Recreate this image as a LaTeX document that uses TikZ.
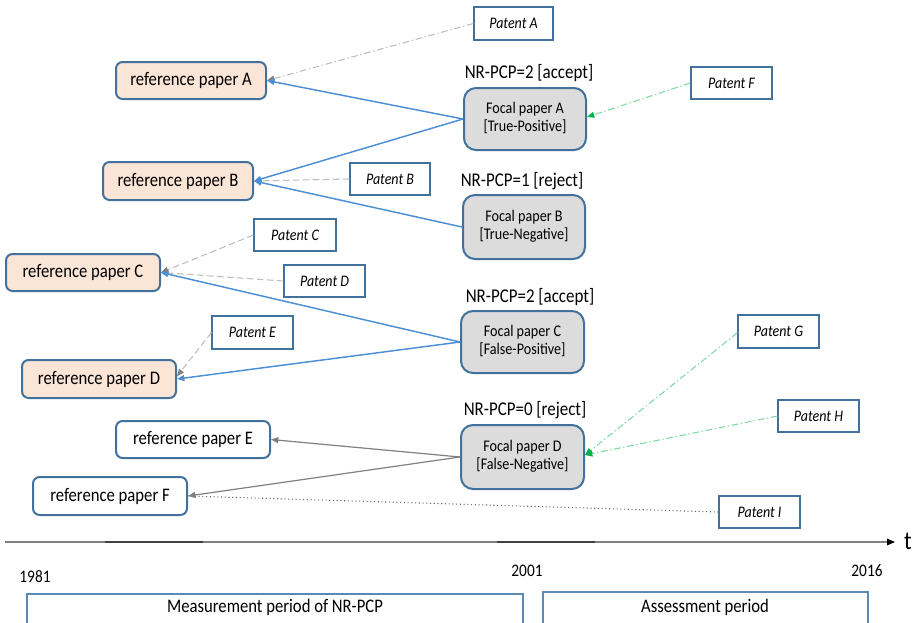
\documentclass[tikz,border=0pt]{standalone}
\usepackage{fontspec}
\setmainfont{Carlito}
\usepackage{graphicx}
\usetikzlibrary{arrows.meta}
\definecolor{bordc}{HTML}{41719C}
\definecolor{reffill}{HTML}{FBE5D6}
\definecolor{focfill}{HTML}{DCDCDC}
\definecolor{blueln}{HTML}{4D8FD6}
\definecolor{grayln}{HTML}{808080}
\definecolor{ltgray}{HTML}{BDBDBD}
\definecolor{greentip}{HTML}{00B050}
\definecolor{greenln}{HTML}{7ED9A2}
\definecolor{perbord}{HTML}{5B88B5}
\newcommand\vs[1]{\scalebox{1}[1.15]{#1}}
\tikzset{
  wh/.style 2 args={minimum width=#1*0.75pt, minimum height=#2*0.75pt},
  refbox/.style={draw=bordc, line width=1.5pt, rounded corners=5pt, inner sep=0pt,
    font=\fontsize{12.5}{14}\selectfont, wh={152}{37}},
  refc/.style={refbox, fill=reffill},
  refw/.style={refbox, fill=white},
  focbox/.style={draw=bordc, fill=focfill, line width=1.5pt, rounded corners=9pt, inner sep=0pt,
    font=\fontsize{10.6}{12}\selectfont, wh={122}{63}},
  patbox/.style={draw=bordc, fill=white, line width=0.9pt, inner sep=0pt,
    font=\fontsize{10.5}{12}\selectfont\itshape, wh={81}{32}},
  nrlab/.style={inner sep=0pt, font=\fontsize{12.7}{14}\selectfont},
  yearlab/.style={inner sep=0pt, font=\fontsize{11.5}{13}\selectfont},
  perbox/.style={draw=perbord, line width=0.8pt},
  tip/.style={-{Triangle[length=5.5pt,width=4.5pt,color=#1]}},
  bluearr/.style={blueln, line width=1.1pt, tip=blueln},
  grayarr/.style={grayln, line width=0.9pt, tip=grayln},
  patref/.style={ltgray, line width=0.8pt, dash pattern=on 5pt off 2pt on 1pt off 2pt},
  patdash/.style={ltgray, line width=0.8pt, dash pattern=on 5pt off 2.5pt},
  patgreen/.style={greenln, line width=0.8pt, dash pattern=on 5pt off 2pt on 1pt off 2pt},
}
\begin{document}
\begin{tikzpicture}[x=0.75pt,y=-0.75pt]
\useasboundingbox (0,0) rectangle (917,622);

% reference papers
\node[refc, wh={150}{37}] (rA) at (191,80.5) {\vs{reference paper A}};
\node[refc, wh={150}{38}] (rB) at (178,181) {\vs{reference paper B}};
\node[refc, wh={154}{37}] (rC) at (83,272.5) {\vs{reference paper C}};
\node[refc, wh={154}{38}] (rD) at (99,379) {\vs{reference paper D}};
\node[refw, wh={154}{37}] (rE) at (193,439.5) {\vs{reference paper E}};
\node[refw, wh={154}{38}] (rF) at (110,496) {\vs{reference paper F}};

% focal papers
\node[focbox, wh={122}{62}] (fA) at (525,119) {\vs{\begin{tabular}{@{}c@{}}Focal paper A\\\relax [True-Positive]\end{tabular}}};
\node[focbox, wh={122}{64}] (fB) at (524,227) {\vs{\begin{tabular}{@{}c@{}}Focal paper B\\\relax [True-Negative]\end{tabular}}};
\node[focbox, wh={123}{62}] (fC) at (522.5,342) {\vs{\begin{tabular}{@{}c@{}}Focal paper C\\\relax [False-Positive]\end{tabular}}};
\node[focbox, wh={123}{64}] (fD) at (522.5,457) {\vs{\begin{tabular}{@{}c@{}}Focal paper D\\\relax [False-Negative]\end{tabular}}};

% NR-PCP labels
\node[nrlab] (lA) at (529,73) {\vs{NR-PCP=2 [accept]}};
\node[nrlab] (lB) at (522,181) {\vs{NR-PCP=1 [reject]}};
\node[nrlab] (lC) at (530,297) {\vs{NR-PCP=2 [accept]}};
\node[nrlab] (lD) at (525,410) {\vs{NR-PCP=0 [reject]}};

% patents
\node[patbox, wh={79}{33}] (pA) at (513.5,23.5) {\vs{Patent A}};
\node[patbox, wh={80}{32}] (pB) at (390,179) {\vs{Patent B}};
\node[patbox, wh={82}{32}] (pC) at (295,235) {\vs{Patent C}};
\node[patbox] (pD) at (324.5,281) {\vs{Patent D}};
\node[patbox, wh={81}{33}] (pE) at (252.5,332.5) {\vs{Patent E}};
\node[patbox] (pF) at (731.5,83) {\vs{Patent F}};
\node[patbox, wh={81}{33}] (pG) at (778.5,331.5) {\vs{Patent G}};
\node[patbox] (pH) at (818.5,416) {\vs{Patent H}};
\node[patbox] (pI) at (759.5,512) {\vs{Patent I}};

% patent citation lines
\draw[patref, tip=grayln] (pA.west) -- (rA.east);
\draw[patdash] (pB.west) -- (rB.east);
\draw[patdash, tip=grayln] (pC.west) -- (rC.east);
\draw[patdash, tip=grayln] (pD.west) -- (rC.east);
\draw[patdash, tip=grayln] (pE.west) -- ([yshift=2pt]rD.east);
\draw[patgreen, tip=greentip] (pF.west) -- ([yshift=1.5pt]fA.east);
\draw[patgreen, tip=greentip] ([yshift=-1pt]pG.west) -- ([yshift=1.5pt]fD.east);
\draw[patgreen, tip=greentip] (pH.west) -- ([yshift=1.5pt]fD.east);
\draw[grayln!80!black, line width=0.8pt, dotted] (pI.west) -- (rF.east);

% focal -> reference
\draw[bluearr] (fA.west) -- (rA.east);
\draw[bluearr] (fA.west) -- (rB.east);
\draw[bluearr] (fB.west) -- (rB.east);
\draw[bluearr] (fC.west) -- (rC.east);
\draw[bluearr] (fC.west) -- (rD.east);
\draw[grayarr] (fD.west) -- (rE.east);
\draw[grayarr] (fD.west) -- (rF.east);

% timeline
\coordinate (t0) at (5,542);
\coordinate (t1) at (895,542);
\draw[grayln, line width=0.8pt, -{Triangle[length=6pt,width=5pt,color=black]}] (t0) -- (t1);
\draw[black!75, line width=1.1pt] (105,542) -- (203,542);
\draw[black!75, line width=1.1pt] (497,542) -- (595,542);
\node[inner sep=0pt, font=\fontsize{17}{19}\selectfont] (tl) at (908,541) {\vs{t}};

\node[yearlab] (y1) at (35,577) {\vs{1981}};
\node[yearlab] (y2) at (527,571) {\vs{2001}};
\node[yearlab] (y3) at (867,571) {\vs{2016}};

% periods
\draw[perbox] (27,630) -- (27,594) -- (523,594) -- (523,630);
\draw[perbox] (543,630) -- (543,592) -- (868,592) -- (868,630);
\node[nrlab, font=\fontsize{12.5}{14}\selectfont] (m1) at (275,607) {\vs{Measurement period of NR-PCP}};
\node[nrlab, font=\fontsize{12.5}{14}\selectfont] (m2) at (705,607) {\vs{Assessment period}};
\end{tikzpicture}
\end{document}
